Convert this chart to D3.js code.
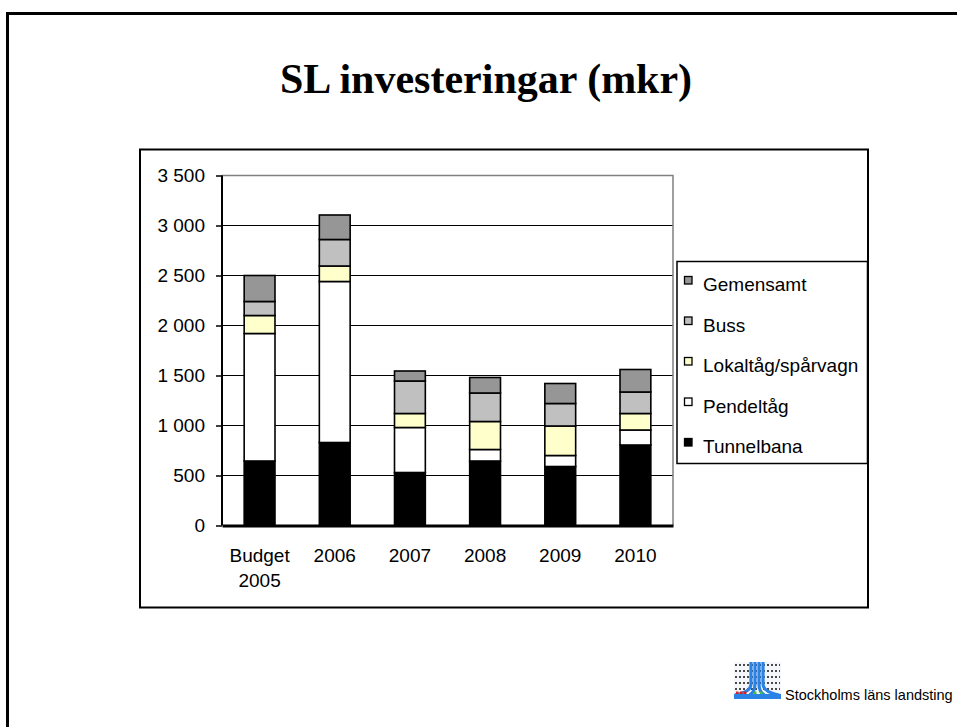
<!DOCTYPE html>
<html><head><meta charset="utf-8">
<script src="https://cdn.jsdelivr.net/npm/d3@7/dist/d3.min.js"></script>
<style>
html,body{margin:0;padding:0;background:#fff;}
svg{display:block;}
text{font-family:"Liberation Sans",Arial,sans-serif;}
</style></head>
<body>
<svg id="c" width="957" height="727"></svg>
<script>
const categories = ["Budget\n2005","2006","2007","2008","2009","2010"];
const seriesNames = ["Tunnelbana","Pendeltåg","Lokaltåg/spårvagn","Buss","Gemensamt"];
const tunnelbana = [645, 830, 530, 645, 590, 805];
const pendeltag  = [1275,1610, 450, 115, 110, 150];
const lokaltag   = [180, 155, 140, 280, 295, 165];
const buss       = [140, 265, 325, 285, 225, 215];
const gemensamt  = [260, 245, 100, 155, 200, 225];
const yTicks = [0,500,1000,1500,2000,2500,3000,3500];
const colors = ["#000000","#ffffff","#ffffcc","#c0c0c0","#969696"];

const svg = d3.select("#c");
svg.append("rect").attr("width",957).attr("height",727).attr("fill","#fff");
// outer slide frame
svg.append("rect").attr("x",7.5).attr("y",13.5).attr("width",1000).attr("height",800)
  .attr("fill","none").attr("stroke","#000").attr("stroke-width",3);
// title
svg.append("text").attr("x",486).attr("y",93).attr("text-anchor","middle")
  .style("font-family","'Liberation Serif','Times New Roman',serif").style("font-weight","bold")
  .style("font-size","42px").text("SL investeringar (mkr)");
// chart box
svg.append("rect").attr("x",140).attr("y",149.5).attr("width",728).attr("height",458)
  .attr("fill","#fff").attr("stroke","#000").attr("stroke-width",2);

const L=222, R=673, T=175.5, B=525.5;
const y = d3.scaleLinear().domain([0,3500]).range([B,T]);
const x = d3.scaleBand().domain(categories).range([L,R]).padding(0);
const bw = x.bandwidth()*0.41;

// gridlines
svg.append("g").selectAll("line").data(yTicks.filter(d=>d>0 && d<3500)).join("line")
  .attr("x1",L).attr("x2",R).attr("y1",d=>y(d)).attr("y2",d=>y(d))
  .attr("stroke","#000").attr("stroke-width",1.2);
// plot-area top and right border (gray)
svg.append("path").attr("d",`M${L},${y(3500)}H${R}V${B}`).attr("fill","none")
  .attr("stroke","#808080").attr("stroke-width",1.5);

// bars
const rows = categories.map((c,i)=>({cat:c, Tunnelbana:tunnelbana[i], "Pendeltåg":pendeltag[i],
  "Lokaltåg/spårvagn":lokaltag[i], Buss:buss[i], Gemensamt:gemensamt[i]}));
const stacked = d3.stack().keys(seriesNames)(rows);
svg.append("g").selectAll("g").data(stacked).join("g")
  .attr("fill",(d,i)=>colors[i])
  .selectAll("rect").data(d=>d).join("rect")
  .attr("x",d=>x(d.data.cat)+(x.bandwidth()-bw)/2)
  .attr("width",bw)
  .attr("y",d=>y(d[1]))
  .attr("height",d=>y(d[0])-y(d[1]))
  .attr("stroke","#000").attr("stroke-width",1.6);

// y axis
const ya = svg.append("g").attr("transform",`translate(${L},0)`)
  .call(d3.axisLeft(y).tickValues(yTicks).tickSize(6).tickPadding(11)
    .tickFormat(d=>d3.format(",")(d).replace(/,/g," ")));
ya.select(".domain").attr("stroke","#000").attr("stroke-width",2).attr("d",`M0,${T}V${B}`);
ya.selectAll(".tick line").attr("stroke","#000").attr("stroke-width",1.5);
ya.selectAll(".tick text").style("font-size","19px").style("font-family","'Liberation Sans',Arial,sans-serif")
  .attr("fill","#000");

// x axis
const xa = svg.append("g").attr("transform",`translate(0,${B})`)
  .call(d3.axisBottom(x).tickSize(0).tickFormat(""));
xa.select(".domain").attr("stroke","#000").attr("stroke-width",3);
xa.selectAll(".tick").each(function(d){
  const lines = d.split("\n");
  const t = d3.select(this).append("text").attr("text-anchor","middle").attr("fill","#000")
    .style("font-size","19px");
  lines.forEach((ln,k)=>t.append("tspan").attr("x",0).attr("y",36+k*25).text(ln));
});

// legend
const lg = svg.append("g");
lg.append("rect").attr("x",677).attr("y",261.5).attr("width",190.5).attr("height",202)
  .attr("fill","#fff").attr("stroke","#000").attr("stroke-width",1.5);
const legOrder = seriesNames.slice().reverse();
const lgi = lg.selectAll("g.it").data(legOrder).join("g").attr("class","it")
  .attr("transform",(d,i)=>`translate(0,${291+i*40.5})`);
lgi.append("rect").attr("x",684.5).attr("y",-14.5).attr("width",7.5).attr("height",7.5)
  .attr("fill",d=>colors[seriesNames.indexOf(d)]).attr("stroke","#000").attr("stroke-width",1.3);
lgi.append("text").attr("x",703).attr("y",0).style("font-size","19px").attr("fill","#000").text(d=>d);

// logo
const lo = svg.append("g").attr("transform","translate(734,662)");
lo.append("rect").attr("width",47).attr("height",37).attr("fill","#f4f6fa");
[3,9,15,21,27].forEach(yy=>lo.append("line").attr("x1",1).attr("x2",46).attr("y1",yy).attr("y2",yy)
  .attr("stroke","#111").attr("stroke-width",1.4).attr("stroke-dasharray","2,2"));
[17,21,25,29].forEach((xx,k)=>{
  const spread = (xx-23)*0.9;
  lo.append("path").attr("d",`M${xx},0V22Q${xx},30 ${xx+spread*3},33`)
    .attr("fill","none").attr("stroke","#2a82e4").attr("stroke-width",3.2);
});
lo.append("rect").attr("x",0).attr("y",32).attr("width",47).attr("height",5).attr("fill","#2a82e4");
[2,6,10].forEach(xx=>lo.append("rect").attr("x",xx).attr("y",29.5).attr("width",2.5).attr("height",2.5).attr("fill","#e02020"));
[20,26].forEach(xx=>lo.append("rect").attr("x",xx).attr("y",29.5).attr("width",2.5).attr("height",2.5).attr("fill","#40c040"));
svg.append("text").attr("x",785).attr("y",700).style("font-size","14.5px").attr("fill","#000")
  .text("Stockholms läns landsting");
</script>
</body></html>
